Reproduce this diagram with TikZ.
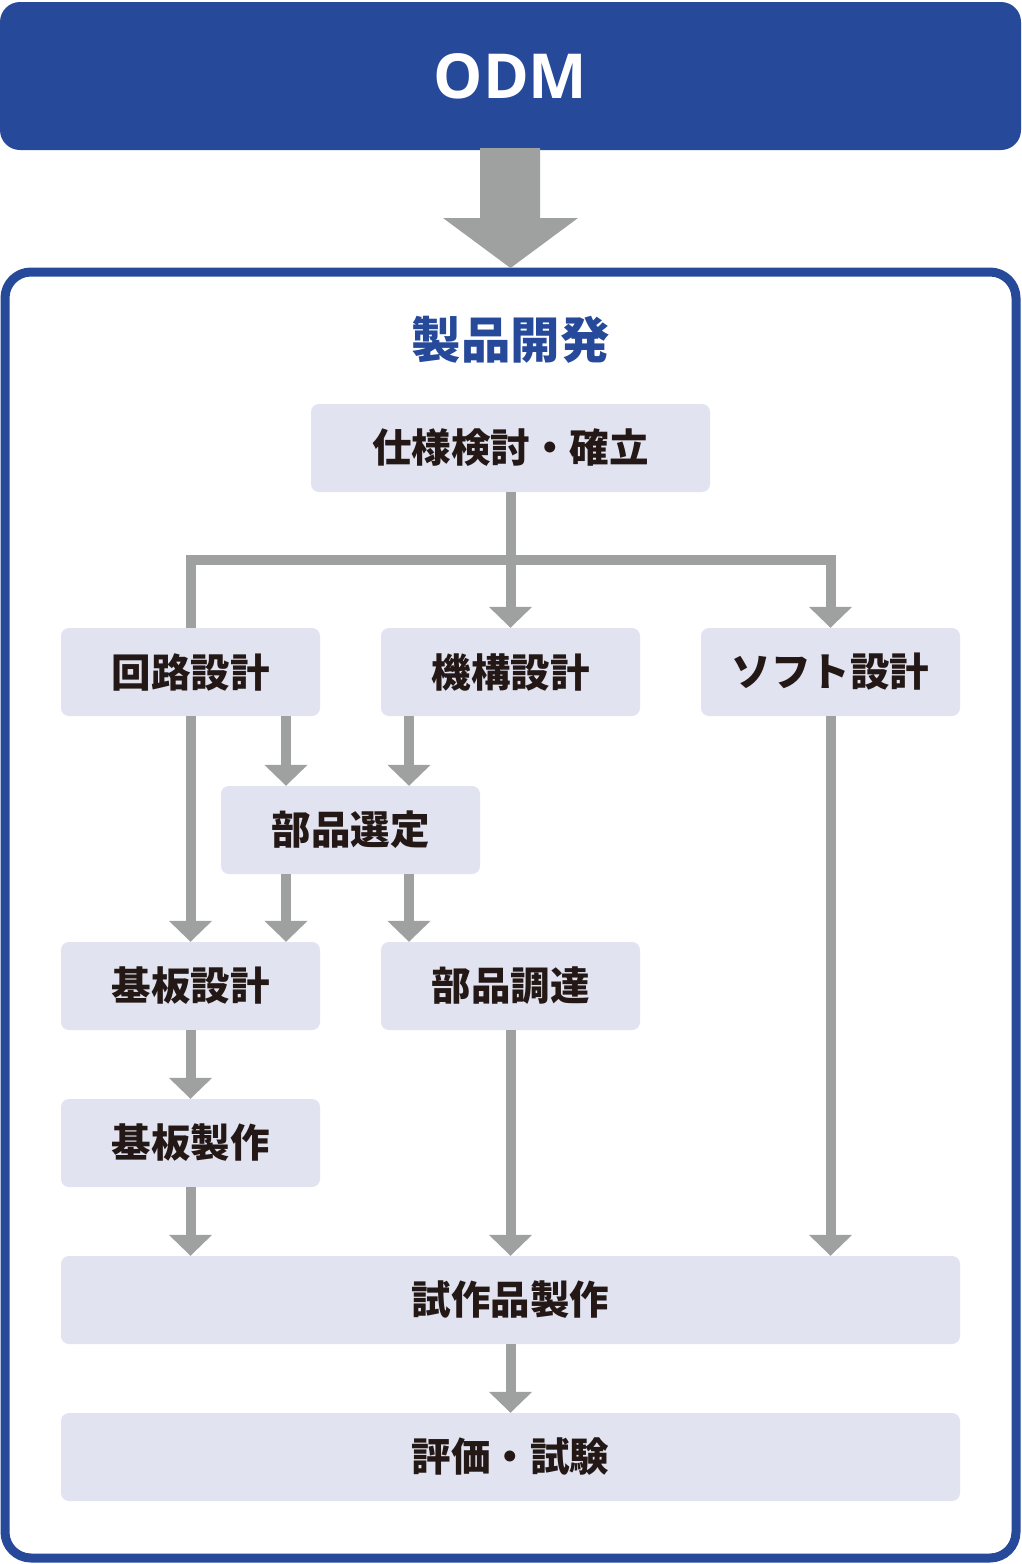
\documentclass[tikz,border=0pt]{standalone}
\usepackage{fontspec}
\setmainfont{Open Sans}
\newfontfamily\jp{Noto Sans CJK JP}
\usetikzlibrary{arrows.meta,calc}
\definecolor{odmblue}{HTML}{264A99}
\definecolor{boxfill}{HTML}{E1E3F0}
\definecolor{conngray}{HTML}{9FA0A0}
\definecolor{txt}{HTML}{231815}
\begin{document}
\begin{tikzpicture}[x=1pt,y=-1pt,
  stepbox/.style={fill=boxfill, rounded corners=8pt, inner sep=0pt,
    minimum width=259pt, minimum height=88pt, text=txt,
    font=\jp\bfseries\fontsize{39.5}{41}\selectfont},
  widebox/.style={stepbox, minimum width=899pt},
  conn/.style={draw=conngray, line width=10pt, line join=miter},
  arr/.style={conn, -{Triangle[width=42pt,length=21pt]}}
]
\useasboundingbox (0,0) rectangle (1021,1564);

% banner
\node[fill=odmblue, rounded corners=20pt, minimum width=1021pt, minimum height=148pt,
  inner sep=0pt, text=white, font=\bfseries\fontsize{62}{64}\selectfont] (odm) at (510.5,76) {ODM};

% outer frame
\draw[odmblue, line width=9pt, rounded corners=26pt] (5,272) rectangle (1016,1558);
\coordinate (frametop) at (510.5,268);

% big arrow
\fill[conngray] (480,148) -- (540,148) -- (540,218) -- (578,218) -- (frametop) -- (443,218) -- (480,218) -- cycle;

% title
\node[text=odmblue, font=\jp\bfseries\fontsize{49.5}{51}\selectfont] (title) at (510.5,340) {製品開発};

% nodes
\node[stepbox, minimum width=399pt] (spec) at (510.5,448) {仕様検討・確立};
\node[stepbox] (kairo) at (190.5,672) {回路設計};
\node[stepbox] (kiko) at (510.5,672) {機構設計};
\node[stepbox] (soft) at (830.5,672) {ソフト設計};
\node[stepbox] (sentei) at (350.5,830) {部品選定};
\node[stepbox] (kiban) at (190.5,986) {基板設計};
\node[stepbox] (chotatsu) at (510.5,986) {部品調達};
\node[stepbox] (seisaku) at (190.5,1143) {基板製作};
\node[widebox] (shisaku) at (510.5,1300) {試作品製作};
\node[widebox] (hyoka) at (510.5,1457) {評価・試験};

% helper x positions
\coordinate (xa) at (286,0);
\coordinate (xb) at (409,0);
\coordinate (jrow) at (0,560);

% connectors
\draw[arr] (spec.south) -- (kiko.north);
\draw[arr] (kairo.north) |- (soft.north |- jrow) -- (soft.north);
\draw[arr] (kairo.south) -- (kiban.north);
\draw[arr] (kairo.south -| xa) -- (sentei.north -| xa);
\draw[arr] (kiko.south -| xb) -- (sentei.north -| xb);
\draw[arr] (sentei.south -| xa) -- (kiban.north -| xa);
\draw[arr] (sentei.south -| xb) -- (chotatsu.north -| xb);
\draw[arr] (kiban.south) -- (seisaku.north);
\draw[arr] (seisaku.south) -- (shisaku.north -| seisaku.south);
\draw[arr] (chotatsu.south) -- (shisaku.north -| chotatsu.south);
\draw[arr] (soft.south) -- (shisaku.north -| soft.south);
\draw[arr] (shisaku.south) -- (hyoka.north);
\end{tikzpicture}
\end{document}
